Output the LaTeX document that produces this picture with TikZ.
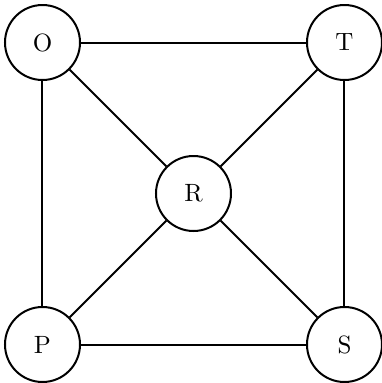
\documentclass[tikz,border=0pt]{standalone}
\usepackage{tikz}
\usetikzlibrary{positioning}

\begin{document}
\begin{tikzpicture}[node distance=120.8pt,on grid,thick,
    vert/.style={circle,draw,minimum size=30pt,inner sep=0pt}]
       \useasboundingbox (-17pt,17pt) rectangle (135.8pt,-136.2pt);
       \node[vert] (O) {O};
       \node[vert] (T) [right=of O] {T};
       \node[vert] (P) [below=of O] {P};
       \node[vert] (S) [right=of P] {S};
       \node[vert] (R) [below right=60.4pt and 60.4pt of O] {R};

       \path[draw]
       (O) edge (T)
           edge (P)
           edge (R)
       (T) edge (R)
           edge (S)
       (P) edge (R)
           edge (S)
       (S) edge (R);
    \end{tikzpicture}
\end{document}
